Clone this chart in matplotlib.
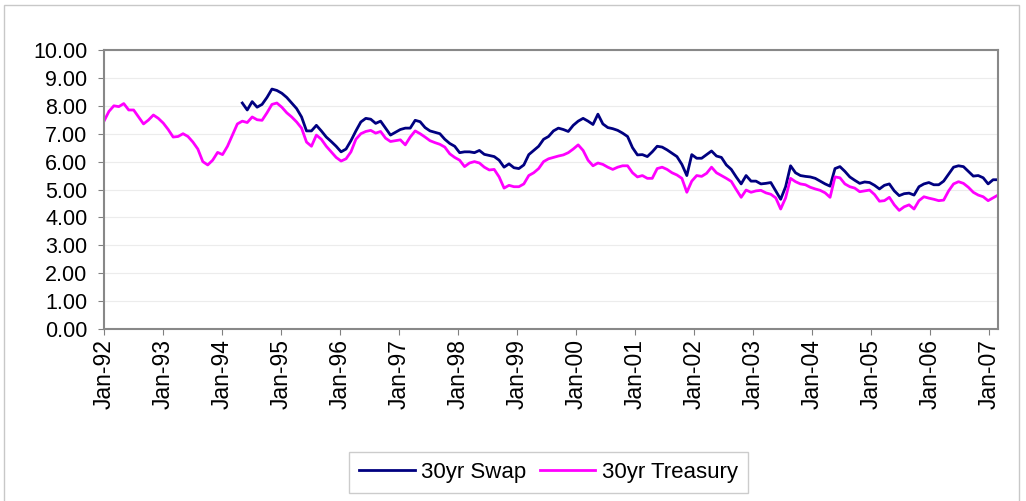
import numpy as np
import pandas as pd
import matplotlib
matplotlib.use("Agg")
import matplotlib.pyplot as plt
import matplotlib.dates as mdates
from matplotlib.patches import Rectangle

# monthly readings, Jan-92 .. Feb-07 (182 months)
treasury = [
    7.45, 7.80, 8.00, 7.97, 8.08, 7.85, 7.85, 7.60, 7.35, 7.49, 7.67, 7.55,
    7.38, 7.15, 6.88, 6.90, 7.00, 6.90, 6.70, 6.45, 6.00, 5.88, 6.05, 6.33,
    6.25, 6.55, 6.95, 7.35, 7.45, 7.40, 7.60, 7.50, 7.48, 7.75, 8.05, 8.10,
    7.95, 7.75, 7.60, 7.42, 7.20, 6.70, 6.55, 6.95, 6.80, 6.55, 6.35, 6.15,
    6.02, 6.10, 6.35, 6.80, 7.00, 7.08, 7.12, 7.02, 7.08, 6.84, 6.72, 6.75,
    6.78, 6.60, 6.88, 7.10, 7.00, 6.88, 6.75, 6.68, 6.62, 6.52, 6.28, 6.15,
    6.05, 5.82, 5.95, 6.00, 5.95, 5.80, 5.70, 5.72, 5.45, 5.05, 5.15, 5.10,
    5.10, 5.20, 5.50, 5.60, 5.75, 6.00, 6.10, 6.15, 6.20, 6.24, 6.32, 6.45,
    6.60, 6.40, 6.05, 5.85, 5.95, 5.90, 5.80, 5.72, 5.80, 5.85, 5.85, 5.60,
    5.45, 5.50, 5.40, 5.40, 5.75, 5.80, 5.72, 5.60, 5.52, 5.40, 4.90, 5.30,
    5.50, 5.47, 5.58, 5.80, 5.60, 5.50, 5.40, 5.29, 5.00, 4.72, 4.98, 4.90,
    4.95, 4.97, 4.88, 4.83, 4.70, 4.30, 4.70, 5.40, 5.28, 5.20, 5.17, 5.08,
    5.02, 4.97, 4.88, 4.72, 5.45, 5.42, 5.20, 5.10, 5.05, 4.92, 4.95, 4.98,
    4.82, 4.58, 4.60, 4.72, 4.45, 4.25, 4.38, 4.45, 4.30, 4.60, 4.74, 4.69,
    4.65, 4.60, 4.62, 4.95, 5.20, 5.28, 5.22, 5.08, 4.90, 4.80, 4.74, 4.60,
    4.70, 4.80,
]

# swap series starts May-94
swap_start = 28
swap = [
    8.10, 7.85, 8.15, 7.95, 8.05, 8.30, 8.60, 8.55,
    8.45, 8.30, 8.10, 7.90, 7.60, 7.10, 7.10, 7.30, 7.10, 6.88, 6.72, 6.55,
    6.35, 6.45, 6.75, 7.10, 7.42, 7.55, 7.52, 7.37, 7.45, 7.20, 6.95, 7.05,
    7.15, 7.20, 7.20, 7.48, 7.43, 7.22, 7.10, 7.05, 7.00, 6.80, 6.65, 6.55,
    6.32, 6.35, 6.35, 6.32, 6.40, 6.26, 6.22, 6.18, 6.05, 5.80, 5.92, 5.78,
    5.75, 5.88, 6.25, 6.40, 6.55, 6.80, 6.90, 7.10, 7.20, 7.15, 7.08, 7.30,
    7.45, 7.55, 7.45, 7.33, 7.70, 7.35, 7.22, 7.18, 7.12, 7.02, 6.90, 6.50,
    6.24, 6.25, 6.18, 6.35, 6.55, 6.52, 6.42, 6.30, 6.18, 5.90, 5.50, 6.25,
    6.12, 6.12, 6.25, 6.38, 6.20, 6.15, 5.88, 5.72, 5.45, 5.20, 5.50, 5.30,
    5.30, 5.20, 5.22, 5.25, 4.95, 4.65, 5.10, 5.85, 5.60, 5.50, 5.47, 5.45,
    5.40, 5.30, 5.20, 5.12, 5.75, 5.82, 5.65, 5.45, 5.33, 5.22, 5.27, 5.25,
    5.15, 5.02, 5.15, 5.20, 4.95, 4.78, 4.85, 4.87, 4.80, 5.10, 5.20, 5.25,
    5.17, 5.17, 5.30, 5.55, 5.80, 5.85, 5.82, 5.65, 5.48, 5.50, 5.42, 5.20,
    5.35, 5.35,
]

dates = pd.date_range("1992-01-01", "2007-02-27", periods=len(treasury))
tick_dates = pd.date_range("1992-01-01", "2007-01-01", freq="YS")
y_ticks = np.arange(0, 11, 1)

plt.rcParams['font.family'] = ['Liberation Sans', 'DejaVu Sans']

fig = plt.figure(figsize=(10.26, 5.01), dpi=100)
fig.patches.append(Rectangle((4 / 1026, -0.05), 1015 / 1026, 1 - 5 / 501 + 0.05,
                             transform=fig.transFigure, fill=False,
                             edgecolor='#c8c8c8', linewidth=1))

ax = fig.add_axes([104 / 1026, 1 - 329 / 501, 894 / 1026, 279 / 501])

ax.plot(dates[swap_start:], swap, color='#000080', linewidth=2.0, label='30yr Swap')
ax.plot(dates, treasury, color='#ff00ff', linewidth=2.0, label='30yr Treasury')

ax.set_ylim(0, 10)
ax.set_xlim(dates[0], dates[-1])
ax.set_yticks(y_ticks)
ax.yaxis.set_major_formatter(matplotlib.ticker.FormatStrFormatter('%.2f'))
ax.set_xticks(tick_dates)
ax.xaxis.set_major_formatter(mdates.DateFormatter('Jan-%y'))
ax.tick_params(axis='x', labelrotation=90, labelsize=16.5, length=4, color='#808080', pad=3)
ax.tick_params(axis='y', labelsize=15.5, length=4, color='#808080', pad=8)
ax.grid(axis='y', color='#ececec', linewidth=0.8)
ax.set_axisbelow(True)
for sp in ax.spines.values():
    sp.set_color('#888888')
    sp.set_linewidth(1.5)

leg = fig.legend(loc='center', bbox_to_anchor=(548.5 / 1026, 1 - 472.5 / 501), ncol=2,
                 fontsize=16, frameon=True, fancybox=False, handlelength=2.5,
                 columnspacing=0.6, handletextpad=0.3, borderpad=0.45)
leg.get_frame().set_edgecolor('#c0c0c0')
leg.get_frame().set_linewidth(1)

fig.savefig("out.png", dpi=100)
